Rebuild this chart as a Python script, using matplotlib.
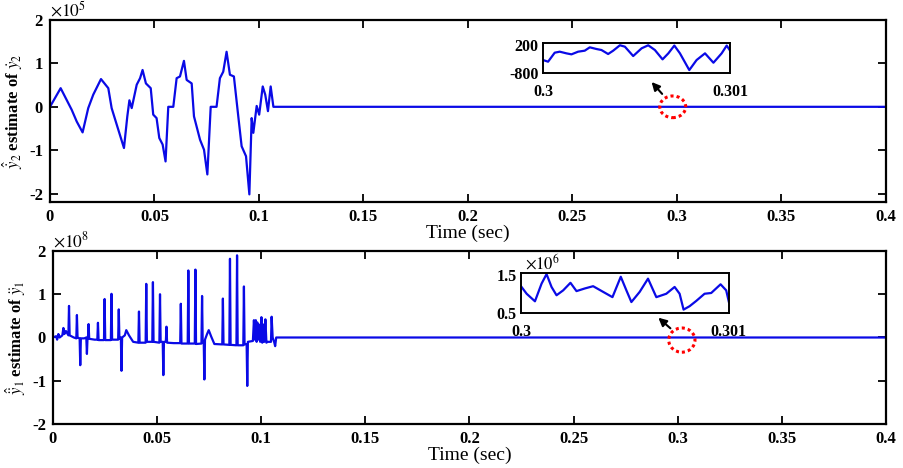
import numpy as np
import matplotlib.pyplot as plt
from matplotlib.patches import Ellipse

plt.rcParams['font.family'] = ['Liberation Serif', 'DejaVu Serif']
plt.rcParams['mathtext.fontset'] = 'stix'
plt.rcParams['axes.unicode_minus'] = False

# 上图: y2 导数估计 (单位 1e5)
y2_t = [0.0, 0.0051, 0.0104, 0.0128, 0.0156, 0.0183, 0.0207, 0.0244, 0.0279, 0.0295,
        0.0327, 0.0354, 0.0370, 0.0380, 0.0391, 0.0415, 0.0431, 0.0443, 0.0459, 0.0482,
        0.0494, 0.0510, 0.0523, 0.0539, 0.0553, 0.0566, 0.0590, 0.0606, 0.0622, 0.0641,
        0.0654, 0.0678, 0.0689, 0.0718, 0.0737, 0.0753, 0.0769, 0.0797, 0.0813, 0.0829,
        0.0845, 0.0861, 0.0880, 0.0901, 0.0917, 0.0938, 0.0954, 0.0965, 0.0973, 0.0989,
        0.1001, 0.1018, 0.1030, 0.1043, 0.1056, 0.1069, 0.4]
y2_v = [0.0, 0.43, -0.07, -0.34, -0.59, -0.03, 0.28, 0.64, 0.43, -0.03,
        -0.53, -0.95, -0.22, 0.15, -0.03, 0.51, 0.66, 0.85, 0.54, 0.43,
        -0.18, -0.26, -0.72, -0.87, -1.26, 0.0, 0.0, 0.66, 0.70, 1.06,
        0.62, 0.54, -0.22, -0.76, -0.99, -1.56, 0.0, 0.0, 0.66, 0.81,
        1.27, 0.74, 0.70, -0.22, -0.91, -1.14, -2.02, -0.26, -0.60, 0.02,
        -0.18, 0.47, 0.28, -0.10, 0.47, 0.0, 0.0]

# 上图局部放大 0.3~0.301
z2_t = [0.3, 0.300027, 0.3000625, 0.3000893, 0.300125, 0.300152, 0.3001875, 0.300223,
        0.30025, 0.300286, 0.3003125, 0.300348, 0.300375, 0.300411, 0.3004375, 0.300482,
        0.300527, 0.3005625, 0.300598, 0.300639, 0.30067, 0.300702, 0.300732, 0.300782,
        0.300821, 0.300866, 0.300911, 0.300955, 0.300982, 0.301]
z2_v = [-342, -402, -77, -41, -101, -137, -41, -5, 116, 55, 19, -125, -5, 190, 140, -198,
        80, 190, 19, -318, -101, 180, -101, -704, -342, -101, -439, -101, 180, -5]

# 下图: y1 二阶导数估计 (单位 1e8)
y1_t = [0.0, 0.0015, 0.0020, 0.0026, 0.0032, 0.0045, 0.0050, 0.0055, 0.0062, 0.0074,
        0.0077, 0.0080, 0.0100, 0.0112, 0.0115, 0.0118, 0.0128, 0.0131, 0.0134, 0.0150,
        0.0160, 0.0163, 0.0166, 0.0168, 0.0171, 0.0174, 0.0200, 0.0213, 0.0216, 0.0219,
        0.0245, 0.0248, 0.0251, 0.0278, 0.0281, 0.0284, 0.0313, 0.0316, 0.0319, 0.0326,
        0.0329, 0.0332, 0.0345, 0.0352, 0.0365, 0.0385, 0.0410, 0.0413, 0.0416, 0.0445,
        0.0448, 0.0451, 0.0477, 0.0480, 0.0483, 0.0511, 0.0514, 0.0517, 0.0527, 0.0530,
        0.0533, 0.0542, 0.0545, 0.0548, 0.0580, 0.0611, 0.0614, 0.0617, 0.0647, 0.0650,
        0.0653, 0.0681, 0.0684, 0.0687, 0.0713, 0.0716, 0.0719, 0.0724, 0.0727, 0.0730,
        0.0740, 0.0748, 0.0760, 0.0775, 0.0813, 0.0816, 0.0819, 0.0847, 0.0850, 0.0853,
        0.0881, 0.0884, 0.0887, 0.0914, 0.0917, 0.0920, 0.0930, 0.0933, 0.0936, 0.0960,
        0.0965, 0.0970, 0.0974, 0.0978, 0.0981, 0.0985, 0.0989, 0.0995, 0.1001, 0.1005,
        0.1010, 0.1015, 0.1020, 0.1025, 0.1030, 0.1047, 0.1050, 0.1055, 0.1062, 0.1067,
        0.1072, 0.4]
y1_v = [0.0, 0.03, -0.05, 0.08, 0.0, 0.05, 0.22, 0.08, 0.15, 0.05,
        0.73, 0.05, 0.0, -0.02, 0.52, 0.0, -0.02, -0.64, -0.02, -0.02,
        0.0, -0.38, 0.0, 0.0, 0.31, -0.03, -0.05, -0.05, 0.34, -0.06,
        -0.06, 0.89, -0.06, -0.06, 1.01, -0.05, -0.05, 0.65, -0.03, 0.0,
        -0.77, 0.0, 0.05, 0.17, 0.05, -0.10, -0.12, 0.60, -0.12, -0.12,
        1.24, -0.10, -0.10, 1.28, -0.10, -0.12, 1.00, -0.10, -0.10, -0.87,
        -0.10, -0.10, 0.25, -0.12, -0.13, -0.13, 0.78, -0.14, -0.14, 1.55,
        -0.14, -0.14, 1.57, -0.15, -0.14, 0.96, -0.12, -0.10, -0.97, -0.05,
        0.08, 0.17, 0.02, -0.15, -0.16, 0.90, -0.16, -0.17, 1.82, -0.17,
        -0.18, 1.90, -0.18, -0.18, 1.18, -0.16, -0.15, -1.12, -0.10, -0.08,
        0.40, -0.05, 0.40, -0.10, 0.35, -0.05, 0.30, -0.10, 0.47, -0.12,
        0.30, -0.10, 0.42, -0.12, -0.10, -0.10, 0.48, 0.0, -0.10, -0.20,
        0.0, 0.0]

# 下图局部放大 0.3~0.301 (单位 1e6)
z1_t = [0.3, 0.3000272, 0.3000672, 0.3000992, 0.300123, 0.300147, 0.300171, 0.300203,
        0.300238, 0.300267, 0.300307, 0.300347, 0.300395, 0.30044, 0.30048, 0.300507,
        0.300531, 0.300571, 0.300611, 0.300651, 0.300699, 0.300739, 0.300763, 0.300782,
        0.300811, 0.300843, 0.300883, 0.300915, 0.30096, 0.300987, 0.301]
z1_v = [1.21, 1.01, 0.81, 1.28, 1.53, 1.19, 0.97, 1.10, 1.30, 1.08, 1.15, 1.21, 1.06,
        0.92, 1.46, 1.10, 0.79, 1.06, 1.41, 0.92, 1.01, 1.19, 1.01, 0.59, 0.68, 0.82,
        1.01, 1.03, 1.26, 1.10, 0.79]

xticks = [0, 0.05, 0.1, 0.15, 0.2, 0.25, 0.3, 0.35, 0.4]
xtick_labels = ['0', '0.05', '0.1', '0.15', '0.2', '0.25', '0.3', '0.35', '0.4']

blue = '#0a0ae6'

fig = plt.figure(figsize=(9.04, 4.68), dpi=100)


def style_main(ax, ylim):
    ax.set_xlim(0, 0.4)
    ax.set_ylim(*ylim)
    ax.set_xticks(xticks)
    ax.set_xticklabels(xtick_labels)
    ax.set_yticks([-2, -1, 0, 1, 2])
    ax.set_yticklabels(['-2', '-1', '0', '1', '2'])
    ax.tick_params(direction='in', length=6, width=1.3, top=True, right=True,
                   labelsize=12, pad=5)
    for lab in ax.get_xticklabels() + ax.get_yticklabels():
        lab.set_fontweight('bold')
    for s in ax.spines.values():
        s.set_linewidth(1.6)
    ax.set_xlabel('Time (sec)', fontsize=14, labelpad=0)


def style_inset(ax, xlim, ylim, yticks, ylabels):
    ax.set_xlim(*xlim)
    ax.set_ylim(*ylim)
    ax.set_xticks(list(xlim))
    ax.set_xticklabels(['0.3', '0.301'])
    ax.set_yticks(yticks)
    ax.set_yticklabels(ylabels)
    ax.tick_params(direction='in', length=0, labelsize=11.5, pad=3)
    ax.tick_params(axis='x', pad=8)
    for lab in ax.get_xticklabels() + ax.get_yticklabels():
        lab.set_fontweight('bold')
    for s in ax.spines.values():
        s.set_linewidth(1.4)


# 上图
ax1 = fig.add_axes([0.0553, 0.568, 0.9247, 0.389])
ax1.plot(y2_t, y2_v, color=blue, lw=1.6)
style_main(ax1, (-2.2, 2))
ax1.set_ylabel(r'$\hat{\dot{y}}_2$ estimate of $\dot{y}_2$', fontsize=12,
               fontweight='bold', labelpad=3)
ax1.text(0.0, 1.0, r'$\times 10^5$', transform=ax1.transAxes, fontsize=12.5,
         ha='left', va='bottom')
ax1.add_patch(Ellipse((0.298, 0.0), 0.0124, 0.5, fill=False, ec='red',
                      ls=(0, (1, 1)), lw=2.2, zorder=5))
ax1.annotate('', xy=(0.287, 0.62), xytext=(0.2938, 0.25),
             arrowprops=dict(arrowstyle='-|>', color='black', lw=1.5,
                             mutation_scale=12))

ins1 = fig.add_axes([0.6007, 0.844, 0.2069, 0.064])
ins1.plot(z2_t, z2_v, color=blue, lw=1.6)
style_inset(ins1, (0.3, 0.301), (-810, 270), [-800, 200], ['-800', '200'])

# 下图
ax2 = fig.add_axes([0.0586, 0.094, 0.9214, 0.3697])
ax2.plot(y1_t, y1_v, color=blue, lw=1.6)
style_main(ax2, (-2, 2))
ax2.set_ylabel(r'$\hat{\ddot{y}}_1$ estimate of $\ddot{y}_1$', fontsize=12,
               fontweight='bold', labelpad=3)
ax2.text(0.0, 1.0, r'$\times 10^8$', transform=ax2.transAxes, fontsize=12.5,
         ha='left', va='bottom')
ax2.add_patch(Ellipse((0.302, -0.06), 0.0126, 0.56, fill=False, ec='red',
                      ls=(0, (1, 1)), lw=2.2, zorder=5))
ax2.annotate('', xy=(0.2897, 0.5), xytext=(0.2975, 0.17),
             arrowprops=dict(arrowstyle='-|>', color='black', lw=1.5,
                             mutation_scale=12))

ins2 = fig.add_axes([0.5763, 0.3312, 0.230, 0.0855])
ins2.plot(z1_t, z1_v, color=blue, lw=1.6)
style_inset(ins2, (0.3, 0.301), (0.5, 1.56), [0.5, 1.5], ['0.5', '1.5'])
ins2.text(0.02, 1.0, r'$\times 10^6$', transform=ins2.transAxes, fontsize=12,
          ha='left', va='bottom')

fig.savefig('out.png', dpi=100)
